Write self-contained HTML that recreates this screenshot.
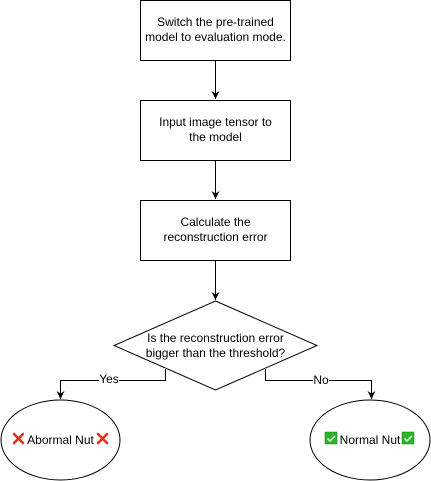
<!DOCTYPE html>
<html><head><style>body{margin:0;background:#fff}svg{display:block}text{font-family:"Liberation Sans",sans-serif;font-size:12px;fill:#000}</style></head>
<body>
<svg width="431" height="481" viewBox="0 0 431 481" xmlns="http://www.w3.org/2000/svg">
<defs><marker id="a" markerWidth="8" markerHeight="8" refX="4" refY="7" orient="auto" markerUnits="userSpaceOnUse"><path d="M0,0 L4,7 L8,0 L4,2 Z" fill="#000"/></marker>
<marker id="d" markerWidth="10" markerHeight="10" refX="5" refY="8" orient="0" markerUnits="userSpaceOnUse"><path d="M1,0 L5,8 L9,0 L5,2.5 Z" fill="#000"/></marker></defs>
<g fill="#fff" stroke="#000" stroke-width="1">
<rect x="140.5" y="0.5" width="150" height="60"/>
<rect x="140.5" y="100.5" width="150" height="60"/>
<rect x="140.5" y="200.5" width="150" height="60"/>
<polygon points="215.5,301 317,345.5 215.5,390 114,345.5"/>
<ellipse cx="60.5" cy="440" rx="59.5" ry="40"/>
<ellipse cx="370" cy="440" rx="60" ry="40"/>
</g>
<g stroke="#000" fill="none">
<path d="M215.5 61V99" marker-end="url(#d)"/>
<path d="M215.5 161V199" marker-end="url(#d)"/>
<path d="M215.5 261V300" marker-end="url(#d)"/>
<path d="M165.5 369V380.5H60.5V399" marker-end="url(#d)"/>
<path d="M265.5 369V380.5H371.5V399" marker-end="url(#d)"/>
</g>
<rect x="99" y="373" width="20" height="12" fill="#fff"/>
<rect x="313" y="374" width="16" height="12" fill="#fff"/>
<text x="109" y="383" text-anchor="middle">Yes</text>
<text x="321" y="384" text-anchor="middle">No</text>
<g text-anchor="middle">
<text x="215.5" y="26">Switch the pre-trained</text>
<text x="215.5" y="41">model to evaluation mode.</text>
<text x="215.5" y="126">Input image tensor to</text>
<text x="215.5" y="141">the model</text>
<text x="215.5" y="226">Calculate the</text>
<text x="215.5" y="241">reconstruction error</text>
<text x="215.5" y="342">Is the reconstruction error</text>
<text x="215.5" y="357">bigger than the threshold?</text>
<text x="60.5" y="444">Abormal Nut</text>
<text x="370" y="444">Normal Nut</text>
</g>
<g stroke="#e0321e" stroke-width="2.6" stroke-linecap="round">
<path d="M14 434L23 443M23 434L14 443"/>
<path d="M98 434L107 443M107 434L98 443"/>
</g>
<g>
<rect x="325" y="432" width="12" height="12" fill="#2cb52c" stroke="#1a7a1a" stroke-width="0.5"/>
<path d="M327.5 438.5l2.5 2.5 5-5" stroke="#fff" stroke-width="1.5" fill="none"/>
<rect x="402" y="432" width="12" height="12" fill="#2cb52c" stroke="#1a7a1a" stroke-width="0.5"/>
<path d="M404.5 438.5l2.5 2.5 5-5" stroke="#fff" stroke-width="1.5" fill="none"/>
</g>
</svg>
</body></html>
